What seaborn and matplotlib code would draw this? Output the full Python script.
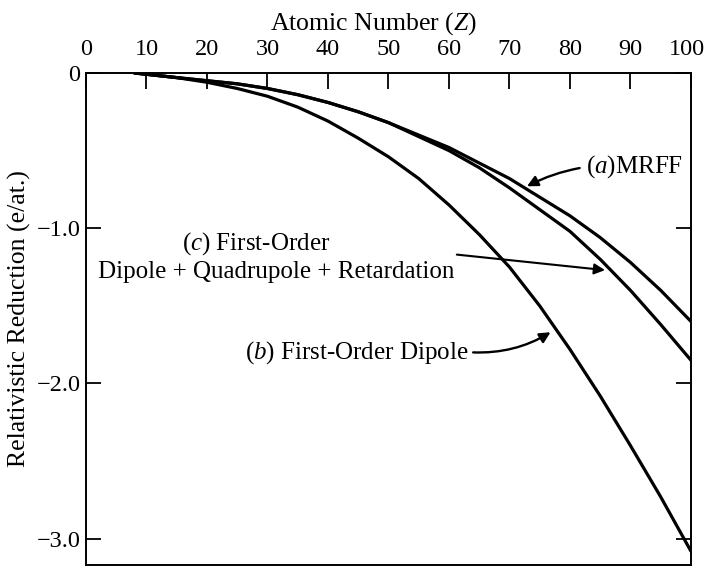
import numpy as np
import pandas as pd
import matplotlib
matplotlib.use("Agg")
import matplotlib.pyplot as plt
import matplotlib.transforms as mtransforms
import seaborn as sns

# values
atomic_number = [8, 15, 20, 25, 30, 35, 40, 45, 50, 55, 60, 65, 70, 75, 80, 85, 90, 95, 100]
mrff = [0.0, -0.03, -0.05, -0.07, -0.10, -0.14, -0.19, -0.25, -0.32, -0.40, -0.48,
        -0.58, -0.68, -0.80, -0.92, -1.06, -1.22, -1.40, -1.60]
first_order_dipole = [0.0, -0.03, -0.06, -0.10, -0.15, -0.22, -0.31, -0.42, -0.54, -0.68,
                      -0.85, -1.04, -1.25, -1.50, -1.78, -2.08, -2.40, -2.73, -3.08]
dip_quad_ret = [0.0, -0.03, -0.05, -0.07, -0.10, -0.14, -0.19, -0.25, -0.32, -0.41, -0.50,
                -0.61, -0.74, -0.88, -1.02, -1.20, -1.40, -1.62, -1.85]

x_ticks = [0, 10, 20, 30, 40, 50, 60, 70, 80, 90, 100]
y_ticks = [0, -1.0, -2.0, -3.0]
y_tick_labels = ["0", "\u22121.0", "\u22122.0", "\u22123.0"]

df = pd.DataFrame({
    "Z": atomic_number * 3,
    "reduction": mrff + first_order_dipole + dip_quad_ret,
    "curve": ["a"] * len(mrff) + ["b"] * len(first_order_dipole) + ["c"] * len(dip_quad_ret),
})

sns.set_theme(style="ticks")
plt.rcParams["font.family"] = ["Liberation Serif", "DejaVu Serif"]
plt.rcParams["text.color"] = "black"
plt.rcParams["mathtext.fontset"] = "custom"
plt.rcParams["mathtext.rm"] = "Liberation Serif"
plt.rcParams["mathtext.it"] = "Liberation Serif:italic"

fig = plt.figure(figsize=(7.05, 5.79), dpi=100)
ax = fig.add_axes([0.122, 0.024, 0.858, 0.850])

sns.lineplot(data=df, x="Z", y="reduction", hue="curve", palette=["black"] * 3,
             linewidth=2.3, legend=False, ax=ax, sort=False)

ax.set_xlim(0, 100)
ax.set_ylim(-3.17, 0)

ax.xaxis.tick_top()
ax.xaxis.set_label_position("top")
ax.set_xticks(x_ticks)
ax.set_xticklabels([str(t) for t in x_ticks])
ax.set_yticks(y_ticks)
ax.set_yticklabels(y_tick_labels)

ax.tick_params(axis="x", direction="in", length=11.5, width=1.3, pad=9, labelsize=17.5,
               top=True, bottom=False, colors="black")
ax.tick_params(axis="y", direction="in", length=11, width=1.3, pad=4, labelsize=17.5,
               left=True, right=True, colors="black")
for side in ax.spines.values():
    side.set_linewidth(1.4)
    side.set_color("black")

# nudge the last top label so it stays inside the figure
last = ax.get_xticklabels()[-1]
last.set_transform(last.get_transform() + mtransforms.ScaledTranslation(-4 / 100, 0, fig.dpi_scale_trans))

ax.set_xlabel(r"Atomic Number ($\mathit{Z}$)", fontsize=18.5, labelpad=7, color="black")
ax.xaxis.label.set_x(0.475)
ax.set_ylabel("Relativistic Reduction (e/at.)", fontsize=18.5, labelpad=4, color="black")

# curve labels with arrows
ax.annotate(r"($\mathit{a}$)MRFF", xy=(72.9, -0.73), xytext=(82.6, -0.60),
            fontsize=18, ha="left", va="center",
            arrowprops=dict(arrowstyle="-|>", color="black", lw=1.7, mutation_scale=16,
                            connectionstyle="arc3,rad=0.15", shrinkA=2, shrinkB=0))

ax.text(28.2, -1.10, r"($\mathit{c}$) First-Order", fontsize=18, ha="center", va="center")
ax.text(31.4, -1.28, "Dipole + Quadrupole + Retardation", fontsize=18, ha="center", va="center")
ax.annotate("", xy=(85.8, -1.27), xytext=(61.3, -1.17),
            arrowprops=dict(arrowstyle="-|>", color="black", lw=1.5, mutation_scale=16,
                            connectionstyle="arc3,rad=0.0", shrinkA=0, shrinkB=0))

ax.text(63.2, -1.80, r"($\mathit{b}$) First-Order Dipole", fontsize=18, ha="right", va="center")
ax.annotate("", xy=(76.8, -1.67), xytext=(64.0, -1.80),
            arrowprops=dict(arrowstyle="-|>", color="black", lw=1.7, mutation_scale=16,
                            connectionstyle="arc3,rad=0.15", shrinkA=0, shrinkB=0))

fig.savefig("out.png", dpi=100)
